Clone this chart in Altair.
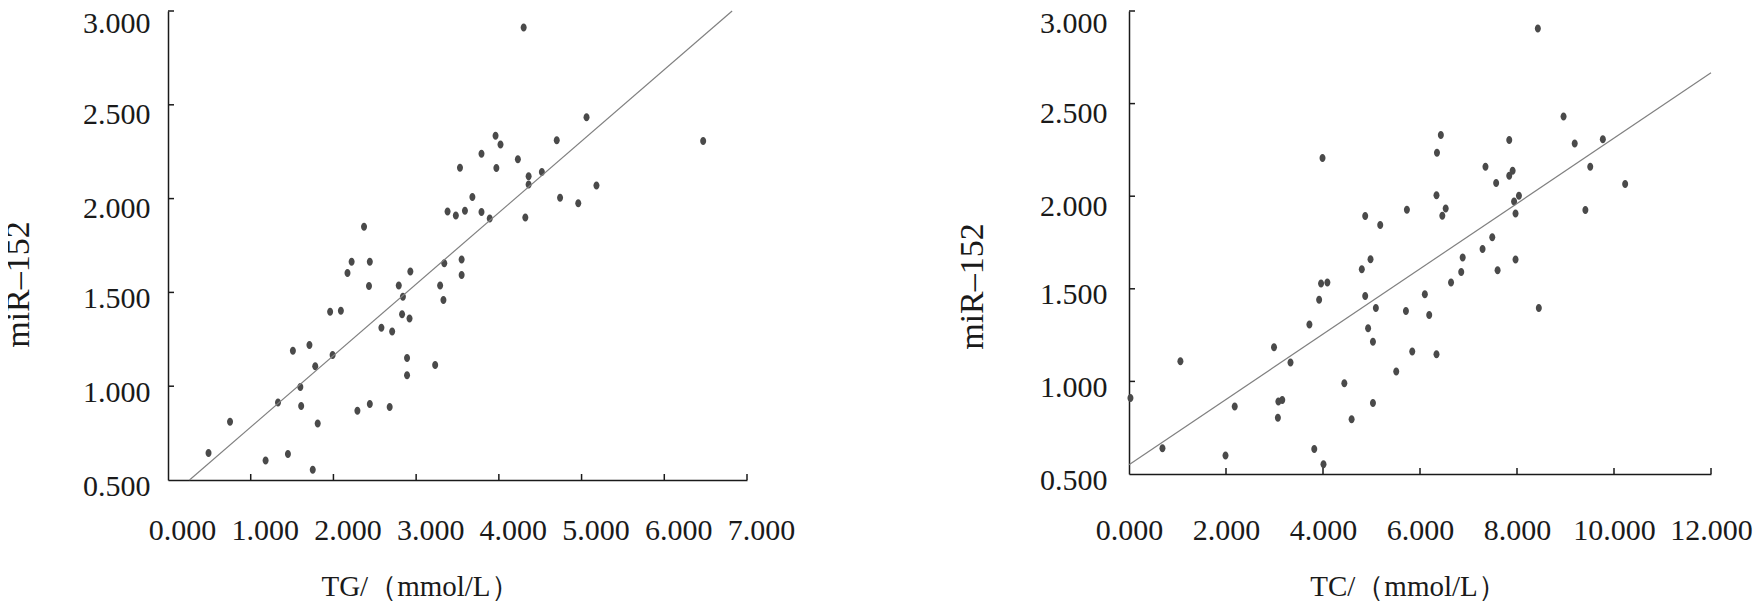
import altair as alt
import pandas as pd

FONT = "Liberation Serif"
INK = "#1a1a1a"
DOT = "#4a4a4a"
LINE = "#808080"

# ---- Left panel: TG vs miR-152 ----
tg = [2.37, 2.22, 2.44, 2.17, 2.43, 2.79, 2.93, 3.38, 3.34, 3.29, 3.33, 2.84, 4.30, 5.06, 6.47,
      3.96, 4.02, 3.79, 4.70, 3.53, 3.97, 4.23, 4.36, 4.36, 4.52, 5.18, 4.74, 4.96, 3.68, 3.48,
      3.59, 3.79, 3.89, 4.32, 3.55, 3.55, 1.96, 2.09, 2.83, 2.92, 2.58, 2.71, 1.51, 1.71, 1.78,
      1.99, 2.89, 2.89, 3.23, 1.60, 1.33, 1.61, 0.75, 1.81, 2.29, 2.44, 2.68, 0.49, 1.18, 1.45, 1.75]
mir_tg = [1.850, 1.664, 1.664, 1.604, 1.534, 1.537, 1.611, 1.931, 1.655, 1.537, 1.460, 1.477, 2.912,
          2.434, 2.307, 2.335, 2.288, 2.239, 2.311, 2.165, 2.163, 2.210, 2.119, 2.075, 2.142, 2.070,
          2.005, 1.975, 2.008, 1.910, 1.935, 1.929, 1.894, 1.899, 1.675, 1.593, 1.397, 1.402, 1.384,
          1.361, 1.312, 1.291, 1.189, 1.219, 1.107, 1.166, 1.150, 1.059, 1.113, 0.996, 0.913, 0.894,
          0.810, 0.801, 0.869, 0.905, 0.889, 0.644, 0.604, 0.639, 0.554]
tg_fit_x = [0.26, 6.82]
tg_fit_y = [0.50, 3.00]
tg_ticks = [0, 1, 2, 3, 4, 5, 6, 7]

# ---- Right panel: TC vs miR-152 ----
tc = [3.99, 4.87, 5.18, 4.98, 4.80, 3.96, 4.09, 3.92, 4.87, 5.09, 3.72, 4.93, 5.03, 2.99, 3.33,
      1.06, 5.51, 4.44, 0.03, 2.18, 3.08, 3.16, 5.03, 3.07, 4.59, 0.69, 1.99, 3.82, 4.01, 8.43,
      8.96, 9.19, 9.77, 9.51, 10.23, 9.41, 6.43, 6.35, 7.84, 7.35, 7.91, 7.84, 7.57, 6.34, 6.53,
      6.46, 5.73, 8.04, 7.94, 7.97, 7.49, 7.29, 6.88, 6.85, 6.64, 6.10, 7.97, 7.60, 5.71, 6.19,
      8.45, 5.84, 6.34]
mir_tc = [2.206, 1.893, 1.845, 1.660, 1.605, 1.529, 1.534, 1.441, 1.461, 1.397, 1.307, 1.287, 1.214,
          1.184, 1.102, 1.109, 1.054, 0.990, 0.910, 0.864, 0.891, 0.900, 0.884, 0.804, 0.795, 0.639,
          0.600, 0.635, 0.552, 2.906, 2.430, 2.284, 2.307, 2.159, 2.066, 1.925, 2.330, 2.234, 2.303,
          2.159, 2.138, 2.110, 2.071, 2.005, 1.934, 1.895, 1.927, 2.003, 1.971, 1.907, 1.778, 1.715,
          1.669, 1.591, 1.534, 1.470, 1.658, 1.600, 1.380, 1.358, 1.396, 1.161, 1.147]
tc_fit_x = [0.0, 12.0]
tc_fit_y = [0.55, 2.666]
tc_ticks = [0, 2, 4, 6, 8, 10, 12]

y_ticks = [0.5, 1.0, 1.5, 2.0, 2.5, 3.0]
y_title = "miR–152"

ELLIPSE = "M-0.75,0A0.75,1 0 1,0 0.75,0A0.75,1 0 1,0 -0.75,0Z"

Y_LABEL_OFFSET = {
    "condition": [
        {"test": "datum.value >= 2.9", "value": 12},
        {"test": "datum.value >= 1.9", "value": 10},
    ],
    "value": 6,
}


def panel(xs, ys, fx, fy, xticks, xtitle, W, H, xlab_off, xlab_pad, xtitle_x, xtitle_y,
          ylab_pad, ytitle_x, ytitle_y):
    xscale = alt.Scale(domain=[xticks[0], xticks[-1]], nice=False, zero=False)
    yscale = alt.Scale(domain=[y_ticks[0], y_ticks[-1]], nice=False, zero=False)
    xaxis = alt.Axis(values=xticks, format=".3f", title=xtitle, labelOffset=xlab_off,
                     labelPadding=xlab_pad, labelBaseline="top", labelOverlap=False,
                     labelFlush=False, titleFontSize=29,
                     titleX=xtitle_x, titleY=xtitle_y, titleBaseline="middle", titleAlign="center")
    yaxis = alt.Axis(values=y_ticks, format=".3f", title=y_title, labelOffset=Y_LABEL_OFFSET,
                     labelPadding=ylab_pad, labelBaseline="middle", labelOverlap=False,
                     labelFlush=False, titleFontSize=34,
                     titleX=ytitle_x, titleY=ytitle_y, titleBaseline="middle", titleAlign="center",
                     titleAngle=270)
    pts = alt.Chart(pd.DataFrame({"x": xs, "y": ys})).mark_point(
        filled=True, shape=ELLIPSE, size=64, color=DOT, opacity=1, strokeWidth=0
    ).encode(x=alt.X("x:Q", scale=xscale, axis=xaxis), y=alt.Y("y:Q", scale=yscale, axis=yaxis))
    fit = alt.Chart(pd.DataFrame({"x": fx, "y": fy})).mark_line(
        color=LINE, strokeWidth=1.2
    ).encode(x=alt.X("x:Q", scale=xscale), y=alt.Y("y:Q", scale=yscale))
    xt = alt.Chart(pd.DataFrame({"x": xticks[1:]})).mark_rule(color=INK, strokeWidth=1.5).encode(
        x=alt.X("x:Q", scale=xscale), y=alt.value(H), y2=alt.value(H - 6))
    yt = alt.Chart(pd.DataFrame({"y": y_ticks[1:]})).mark_rule(color=INK, strokeWidth=1.5).encode(
        y=alt.Y("y:Q", scale=yscale), x=alt.value(0), x2=alt.value(6))
    return alt.layer(pts, fit, xt, yt).properties(width=W, height=H)


left = panel(tg, mir_tg, tg_fit_x, tg_fit_y, tg_ticks, "TG/（mmol/L）", 579, 469,
             14, 35, 252, 106, 18, -150, 273)
right = panel(tc, mir_tc, tc_fit_x, tc_fit_y, tc_ticks, "TC/（mmol/L）", 582, 463,
              0, 41, 279, 112, 22, -156.5, 275)

chart = alt.hconcat(left, right, spacing=160).properties(
    padding={"left": -7, "top": 0, "right": 0, "bottom": 0}
).configure_view(stroke=None).configure_axis(
    grid=False, ticks=False, domain=True, domainColor=INK, domainWidth=1.5,
    labelFont=FONT, labelFontSize=30, labelColor=INK,
    titleFont=FONT, titleFontWeight="normal", titleColor=INK,
)

chart.save("out.html", embed_options={"renderer": "svg", "actions": False})
